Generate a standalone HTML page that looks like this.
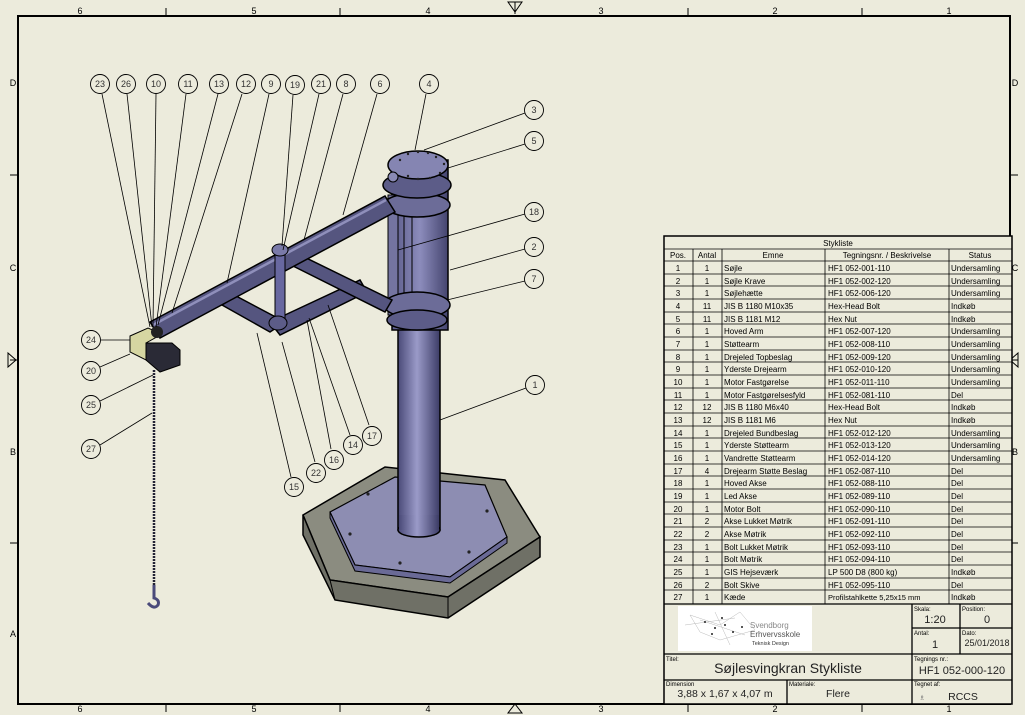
<!DOCTYPE html>
<html><head><meta charset="utf-8"><style>
html,body{margin:0;padding:0;background:#ecebdc;}
svg{display:block;font-family:"Liberation Sans",sans-serif;}
</style></head><body>
<svg width="1025" height="715" viewBox="0 0 1025 715" xmlns="http://www.w3.org/2000/svg">
<defs>
<linearGradient id="cyl" x1="0" x2="1" y1="0" y2="0">
<stop offset="0" stop-color="#4a4a78"/><stop offset="0.45" stop-color="#9a9ac8"/><stop offset="1" stop-color="#3c3c66"/></linearGradient>
<linearGradient id="cyl2" x1="0" x2="1"><stop offset="0" stop-color="#5a5a88"/><stop offset="0.5" stop-color="#8c8cbc"/><stop offset="1" stop-color="#44446e"/></linearGradient>
</defs>
<rect width="1025" height="715" fill="#ecebdc"/>
<rect x="18" y="16" width="992" height="688" fill="none" stroke="#000" stroke-width="2"/>
<g stroke="#000" stroke-width="1">
<line x1="166" y1="8" x2="166" y2="16"/><line x1="340" y1="8" x2="340" y2="16"/><line x1="688" y1="8" x2="688" y2="16"/><line x1="862" y1="8" x2="862" y2="16"/>
<line x1="166" y1="704" x2="166" y2="712"/><line x1="340" y1="704" x2="340" y2="712"/><line x1="688" y1="704" x2="688" y2="712"/><line x1="862" y1="704" x2="862" y2="712"/>
<line x1="10" y1="175" x2="18" y2="175"/><line x1="10" y1="360" x2="18" y2="360"/><line x1="10" y1="543" x2="18" y2="543"/>
<line x1="1010" y1="175" x2="1018" y2="175"/><line x1="1010" y1="360" x2="1018" y2="360"/><line x1="1010" y1="543" x2="1018" y2="543"/>
</g>
<g font-size="9" fill="#000" text-anchor="middle">
<text x="80" y="14">6</text><text x="254" y="14">5</text><text x="428" y="14">4</text><text x="601" y="14">3</text><text x="775" y="14">2</text><text x="949" y="14">1</text>
<text x="80" y="712">6</text><text x="254" y="712">5</text><text x="428" y="712">4</text><text x="601" y="712">3</text><text x="775" y="712">2</text><text x="949" y="712">1</text>
<text x="13" y="86">D</text><text x="13" y="271">C</text><text x="13" y="455">B</text><text x="13" y="637">A</text>
<text x="1015" y="86">D</text><text x="1015" y="271">C</text><text x="1015" y="455">B</text>
</g>
<path d="M508 2 L522 2 L515 12 Z M515 2 L515 14" fill="none" stroke="#000"/>
<path d="M508 713 L522 713 L515 704 Z" fill="none" stroke="#000"/>
<path d="M8 353 L8 367 L16 360 Z" fill="none" stroke="#000"/>
<path d="M1018 353 L1018 367 L1010 360 Z" fill="none" stroke="#000"/>

<!-- base -->
<path d="M303 515 L385 467 L505 480 L540 537 L448 597 L330 580 Z" fill="#8b8c80" stroke="#000" stroke-width="1.5"/>
<path d="M303 515 L303 535 L335 600 L448 618 L540 557 L540 537 L448 597 L330 580 Z" fill="#6f7066" stroke="#000" stroke-width="1.5"/>
<path d="M330 580 L335 600 M448 597 L448 618" stroke="#000"/>
<path d="M330 512 L395 477 L485 485 L507 537 L450 577 L355 565 Z" fill="#8d8db2" stroke="#000" stroke-width="1.2"/>
<path d="M330 512 L330 518 L355 571 L450 583 L507 543 L507 537 L450 577 L355 565 Z" fill="#6a6a96" stroke="#000"/>
<g fill="#222"><circle cx="368" cy="494" r="1.6"/><circle cx="487" cy="511" r="1.6"/><circle cx="350" cy="534" r="1.6"/><circle cx="469" cy="552" r="1.6"/><circle cx="400" cy="563" r="1.6"/></g>
<!-- pillar -->
<rect x="398" y="320" width="42" height="210" fill="url(#cyl)" stroke="#000" stroke-width="1.5"/>
<ellipse cx="419" cy="530" rx="21" ry="7" fill="url(#cyl)" stroke="#000" stroke-width="1.5"/>
<rect x="399" y="515" width="40" height="15" fill="url(#cyl)"/>
<!-- upper cylinder -->
<rect x="392" y="160" width="56" height="170" fill="url(#cyl2)" stroke="#000" stroke-width="1.5"/>
<line x1="412" y1="190" x2="412" y2="320" stroke="#000"/><line x1="404" y1="190" x2="404" y2="320" stroke="#000"/>
<rect x="388" y="195" width="10" height="120" fill="#7474a0" stroke="#000"/>
<ellipse cx="417" cy="305" rx="33" ry="13" fill="#6c6c98" stroke="#000" stroke-width="1.5"/>
<ellipse cx="417" cy="320" rx="30" ry="10" fill="#5c5c88" stroke="#000" stroke-width="1.5"/>
<ellipse cx="417" cy="205" rx="33" ry="12" fill="#6c6c98" stroke="#000" stroke-width="1.5"/>
<ellipse cx="417" cy="185" rx="34" ry="13" fill="#5c5c88" stroke="#000" stroke-width="1.5"/>
<ellipse cx="418" cy="165" rx="30" ry="14" fill="#8585b2" stroke="#000" stroke-width="1.5"/>
<circle cx="393" cy="177" r="5" fill="#8a8ab5" stroke="#000"/>
<g fill="#222"><circle cx="400" cy="160" r="1.2"/><circle cx="408" cy="154" r="1.2"/><circle cx="418" cy="152" r="1.2"/><circle cx="428" cy="153" r="1.2"/><circle cx="436" cy="157" r="1.2"/><circle cx="444" cy="164" r="1.2"/><circle cx="440" cy="173" r="1.2"/><circle cx="430" cy="178" r="1.2"/><circle cx="418" cy="179" r="1.2"/><circle cx="408" cy="176" r="1.2"/></g>
<!-- arms -->
<path d="M222 305 L270 332 L285 322 L236 296 Z" fill="#55557f" stroke="#000" stroke-width="1.5"/>
<path d="M270 322 L360 280 L367 292 L280 335 Z" fill="#55557f" stroke="#000" stroke-width="1.5"/>
<path d="M285 262 L385 312 L392 300 L294 252 Z" fill="#55557f" stroke="#000" stroke-width="1.5"/>
<path d="M150 322 L385 196 L395 212 L160 338 Z" fill="#55557f" stroke="#000" stroke-width="1.5"/>
<path d="M153 325 L386 200" stroke="#8f8fbb" stroke-width="2.5"/>
<rect x="275" y="255" width="10" height="70" fill="#6868a0" stroke="#000"/>
<ellipse cx="280" cy="250" rx="8" ry="6" fill="#7a7aa8" stroke="#000"/>
<ellipse cx="278" cy="323" rx="9" ry="7" fill="#5c5c88" stroke="#000"/>
<!-- motor -->
<path d="M130 336 L148 328 L162 334 L146 343 L146 360 L130 352 Z" fill="#d6d6a2" stroke="#000"/>
<path d="M146 343 L172 343 L180 350 L180 365 L160 372 L146 360 Z" fill="#2a2a36" stroke="#000"/>
<circle cx="157" cy="332" r="6" fill="#222"/>
<line x1="154" y1="370" x2="154" y2="585" stroke="#223" stroke-width="2.5" stroke-dasharray="2,1"/>
<path d="M154 585 L154 598 Q160 600 158 605 Q154 610 148 603" fill="none" stroke="#4a4a7a" stroke-width="3"/>

<!-- leaders -->
<g stroke="#000" stroke-width="0.8" fill="none">
<line x1="102" y1="94" x2="150" y2="327"/><line x1="127" y1="94" x2="152" y2="327"/><line x1="156" y1="94" x2="153" y2="327"/><line x1="186" y1="94" x2="156" y2="327"/><line x1="218" y1="94" x2="158" y2="325"/><line x1="242" y1="94" x2="172" y2="313"/><line x1="269" y1="94" x2="227" y2="283"/><line x1="293" y1="95" x2="282" y2="246"/><line x1="319" y1="94" x2="283" y2="250"/><line x1="343" y1="94" x2="304" y2="240"/><line x1="377" y1="94" x2="343" y2="215"/><line x1="426" y1="94" x2="415" y2="150"/>
<line x1="525" y1="113" x2="424" y2="150"/><line x1="525" y1="144" x2="448" y2="168"/><line x1="525" y1="214" x2="398" y2="250"/><line x1="525" y1="249" x2="450" y2="270"/><line x1="525" y1="281" x2="447" y2="300"/><line x1="526" y1="388" x2="440" y2="420"/>
<line x1="101" y1="340" x2="130" y2="340"/><line x1="100" y1="367" x2="130" y2="354"/><line x1="100" y1="401" x2="153" y2="375"/><line x1="100" y1="445" x2="152" y2="413"/>
<line x1="291" y1="477" x2="257" y2="333"/><line x1="315" y1="462" x2="282" y2="342"/><line x1="331" y1="449" x2="307" y2="320"/><line x1="350" y1="435" x2="309" y2="318"/><line x1="369" y1="425" x2="328" y2="305"/>
</g>
<g fill="#ecebdc" stroke="#000" stroke-width="0.9">
<circle cx="100" cy="84" r="9.5"/><circle cx="126" cy="84" r="9.5"/><circle cx="156" cy="84" r="9.5"/><circle cx="188" cy="84" r="9.5"/><circle cx="219" cy="84" r="9.5"/><circle cx="246" cy="84" r="9.5"/><circle cx="271" cy="84" r="9.5"/><circle cx="295" cy="85" r="9.5"/><circle cx="321" cy="84" r="9.5"/><circle cx="346" cy="84" r="9.5"/><circle cx="380" cy="84" r="9.5"/><circle cx="429" cy="84" r="9.5"/>
<circle cx="534" cy="110" r="9.5"/><circle cx="534" cy="141" r="9.5"/><circle cx="534" cy="212" r="9.5"/><circle cx="534" cy="247" r="9.5"/><circle cx="534" cy="279" r="9.5"/><circle cx="535" cy="385" r="9.5"/>
<circle cx="91" cy="340" r="9.5"/><circle cx="91" cy="371" r="9.5"/><circle cx="91" cy="405" r="9.5"/><circle cx="91" cy="449" r="9.5"/>
<circle cx="294" cy="487" r="9.5"/><circle cx="316" cy="473" r="9.5"/><circle cx="334" cy="460" r="9.5"/><circle cx="353" cy="445" r="9.5"/><circle cx="372" cy="436" r="9.5"/>
</g>
<g font-size="9" text-anchor="middle" fill="#333">
<text x="100" y="87">23</text><text x="126" y="87">26</text><text x="156" y="87">10</text><text x="188" y="87">11</text><text x="219" y="87">13</text><text x="246" y="87">12</text><text x="271" y="87">9</text><text x="295" y="88">19</text><text x="321" y="87">21</text><text x="346" y="87">8</text><text x="380" y="87">6</text><text x="429" y="87">4</text>
<text x="534" y="113">3</text><text x="534" y="144">5</text><text x="534" y="215">18</text><text x="534" y="250">2</text><text x="534" y="282">7</text><text x="535" y="388">1</text>
<text x="91" y="343">24</text><text x="91" y="374">20</text><text x="91" y="408">25</text><text x="91" y="452">27</text>
<text x="294" y="490">15</text><text x="316" y="476">22</text><text x="334" y="463">16</text><text x="353" y="448">14</text><text x="372" y="439">17</text>
</g>

<!-- parts list -->
<rect x="664" y="236" width="348" height="468" fill="#ecebdc" stroke="#000" stroke-width="1.5"/>
<g stroke="#000" stroke-width="0.8">
<line x1="664" y1="249" x2="1012" y2="249"/>
<line x1="693" y1="249" x2="693" y2="604"/><line x1="722" y1="249" x2="722" y2="604"/><line x1="825" y1="249" x2="825" y2="604"/><line x1="949" y1="249" x2="949" y2="604"/>
</g>
<g stroke="#000" stroke-width="0.8">
<line x1="664" y1="261" x2="1012" y2="261"/><line x1="664" y1="274" x2="1012" y2="274"/><line x1="664" y1="286" x2="1012" y2="286"/><line x1="664" y1="299" x2="1012" y2="299"/><line x1="664" y1="312" x2="1012" y2="312"/><line x1="664" y1="324" x2="1012" y2="324"/><line x1="664" y1="337" x2="1012" y2="337"/><line x1="664" y1="350" x2="1012" y2="350"/><line x1="664" y1="362" x2="1012" y2="362"/><line x1="664" y1="375" x2="1012" y2="375"/><line x1="664" y1="388" x2="1012" y2="388"/><line x1="664" y1="400" x2="1012" y2="400"/><line x1="664" y1="413" x2="1012" y2="413"/><line x1="664" y1="426" x2="1012" y2="426"/><line x1="664" y1="438" x2="1012" y2="438"/><line x1="664" y1="451" x2="1012" y2="451"/><line x1="664" y1="464" x2="1012" y2="464"/><line x1="664" y1="476" x2="1012" y2="476"/><line x1="664" y1="489" x2="1012" y2="489"/><line x1="664" y1="502" x2="1012" y2="502"/><line x1="664" y1="514" x2="1012" y2="514"/><line x1="664" y1="527" x2="1012" y2="527"/><line x1="664" y1="540" x2="1012" y2="540"/><line x1="664" y1="552" x2="1012" y2="552"/><line x1="664" y1="565" x2="1012" y2="565"/><line x1="664" y1="578" x2="1012" y2="578"/><line x1="664" y1="590" x2="1012" y2="590"/>
</g>
<g font-size="8" fill="#000">
<text x="838" y="246" text-anchor="middle">Stykliste</text>
<text x="678" y="258" text-anchor="middle">Pos.</text><text x="707" y="258" text-anchor="middle">Antal</text><text x="773" y="258" text-anchor="middle">Emne</text><text x="887" y="258" text-anchor="middle">Tegningsnr. / Beskrivelse</text><text x="980" y="258" text-anchor="middle">Status</text>
</g>
<g font-size="8" fill="#000">
<g text-anchor="middle">
<text x="678" y="271">1</text><text x="678" y="284">2</text><text x="678" y="296">3</text><text x="678" y="309">4</text><text x="678" y="322">5</text><text x="678" y="334">6</text><text x="678" y="347">7</text><text x="678" y="360">8</text><text x="678" y="372">9</text><text x="678" y="385">10</text><text x="678" y="398">11</text><text x="678" y="410">12</text><text x="678" y="423">13</text><text x="678" y="436">14</text><text x="678" y="448">15</text><text x="678" y="461">16</text><text x="678" y="474">17</text><text x="678" y="486">18</text><text x="678" y="499">19</text><text x="678" y="512">20</text><text x="678" y="524">21</text><text x="678" y="537">22</text><text x="678" y="550">23</text><text x="678" y="562">24</text><text x="678" y="575">25</text><text x="678" y="588">26</text><text x="678" y="600">27</text>
<text x="707" y="271">1</text><text x="707" y="284">1</text><text x="707" y="296">1</text><text x="707" y="309">11</text><text x="707" y="322">11</text><text x="707" y="334">1</text><text x="707" y="347">1</text><text x="707" y="360">1</text><text x="707" y="372">1</text><text x="707" y="385">1</text><text x="707" y="398">1</text><text x="707" y="410">12</text><text x="707" y="423">12</text><text x="707" y="436">1</text><text x="707" y="448">1</text><text x="707" y="461">1</text><text x="707" y="474">4</text><text x="707" y="486">1</text><text x="707" y="499">1</text><text x="707" y="512">1</text><text x="707" y="524">2</text><text x="707" y="537">2</text><text x="707" y="550">1</text><text x="707" y="562">1</text><text x="707" y="575">1</text><text x="707" y="588">2</text><text x="707" y="600">1</text>
</g>
<text x="724" y="271">Søjle</text><text x="724" y="284">Søjle Krave</text><text x="724" y="296">Søjlehætte</text><text x="724" y="309">JIS B 1180 M10x35</text><text x="724" y="322">JIS B 1181 M12</text><text x="724" y="334">Hoved Arm</text><text x="724" y="347">Støttearm</text><text x="724" y="360">Drejeled Topbeslag</text><text x="724" y="372">Yderste Drejearm</text><text x="724" y="385">Motor Fastgørelse</text><text x="724" y="398">Motor Fastgørelsesfyld</text><text x="724" y="410">JIS B 1180 M6x40</text><text x="724" y="423">JIS B 1181  M6</text><text x="724" y="436">Drejeled Bundbeslag</text><text x="724" y="448">Yderste Støttearm</text><text x="724" y="461">Vandrette Støttearm</text><text x="724" y="474">Drejearm Støtte Beslag</text><text x="724" y="486">Hoved Akse</text><text x="724" y="499">Led Akse</text><text x="724" y="512">Motor Bolt</text><text x="724" y="524">Akse Lukket Møtrik</text><text x="724" y="537">Akse Møtrik</text><text x="724" y="550">Bolt Lukket Møtrik</text><text x="724" y="562">Bolt Møtrik</text><text x="724" y="575">GIS Hejseværk</text><text x="724" y="588">Bolt Skive</text><text x="724" y="600">Kæde</text>
<text x="828" y="271">HF1 052-001-110</text><text x="828" y="284">HF1 052-002-120</text><text x="828" y="296">HF1 052-006-120</text><text x="828" y="309">Hex-Head Bolt</text><text x="828" y="322">Hex Nut</text><text x="828" y="334">HF1 052-007-120</text><text x="828" y="347">HF1 052-008-110</text><text x="828" y="360">HF1 052-009-120</text><text x="828" y="372">HF1 052-010-120</text><text x="828" y="385">HF1 052-011-110</text><text x="828" y="398">HF1 052-081-110</text><text x="828" y="410">Hex-Head Bolt</text><text x="828" y="423">Hex Nut</text><text x="828" y="436">HF1 052-012-120</text><text x="828" y="448">HF1 052-013-120</text><text x="828" y="461">HF1 052-014-120</text><text x="828" y="474">HF1 052-087-110</text><text x="828" y="486">HF1 052-088-110</text><text x="828" y="499">HF1 052-089-110</text><text x="828" y="512">HF1 052-090-110</text><text x="828" y="524">HF1 052-091-110</text><text x="828" y="537">HF1 052-092-110</text><text x="828" y="550">HF1 052-093-110</text><text x="828" y="562">HF1 052-094-110</text><text x="828" y="575">LP 500 D8 (800 kg)</text><text x="828" y="588">HF1 052-095-110</text><text x="828" y="600" font-size="7.5">Profilstahlkette 5,25x15 mm</text>
<text x="951" y="271">Undersamling</text><text x="951" y="284">Undersamling</text><text x="951" y="296">Undersamling</text><text x="951" y="309">Indkøb</text><text x="951" y="322">Indkøb</text><text x="951" y="334">Undersamling</text><text x="951" y="347">Undersamling</text><text x="951" y="360">Undersamling</text><text x="951" y="372">Undersamling</text><text x="951" y="385">Undersamling</text><text x="951" y="398">Del</text><text x="951" y="410">Indkøb</text><text x="951" y="423">Indkøb</text><text x="951" y="436">Undersamling</text><text x="951" y="448">Undersamling</text><text x="951" y="461">Undersamling</text><text x="951" y="474">Del</text><text x="951" y="486">Del</text><text x="951" y="499">Del</text><text x="951" y="512">Del</text><text x="951" y="524">Del</text><text x="951" y="537">Del</text><text x="951" y="550">Del</text><text x="951" y="562">Del</text><text x="951" y="575">Indkøb</text><text x="951" y="588">Del</text><text x="951" y="600">Indkøb</text>
</g>
<!-- title block -->
<g stroke="#000" stroke-width="1.3" fill="none">
<line x1="664" y1="604" x2="1012" y2="604"/>
<line x1="912" y1="604" x2="912" y2="704"/>
<line x1="960" y1="604" x2="960" y2="654"/>
<line x1="912" y1="628" x2="1012" y2="628"/>
<line x1="664" y1="654" x2="1012" y2="654"/>
<line x1="664" y1="680" x2="1012" y2="680"/>
<line x1="787" y1="680" x2="787" y2="704"/>
</g>
<rect x="678" y="606" width="134" height="45" fill="#fff"/>
<g stroke="#bbb" stroke-width="0.5" fill="none"><path d="M690 615 L720 625 L740 612 L755 630 L720 640 L700 632 Z M700 620 L745 635 M715 612 L730 645 M685 625 L735 618"/></g>
<g fill="#222"><circle cx="705" cy="622" r="1"/><circle cx="715" cy="628" r="1"/><circle cx="725" cy="625" r="1"/><circle cx="733" cy="632" r="1"/><circle cx="712" cy="634" r="1"/><circle cx="742" cy="627" r="1"/><circle cx="722" cy="618" r="1"/></g>
<g font-size="8" fill="#888"><text x="750" y="628">Svendborg</text><text x="750" y="637" fill="#555">Erhvervsskole</text><text x="752" y="645" font-size="5.5" fill="#333">Teknisk Design</text></g>
<g font-size="6" fill="#000">
<text x="914" y="611">Skala:</text><text x="962" y="611">Position:</text><text x="914" y="635">Antal:</text><text x="962" y="635">Dato:</text>
<text x="666" y="661">Titel:</text><text x="914" y="661">Tegnings nr.:</text><text x="666" y="686">Dimension</text><text x="789" y="686">Materiale:</text><text x="914" y="686">Tegnet af:</text>
</g>
<g font-size="11" fill="#222" text-anchor="middle">
<text x="935" y="623">1:20</text><text x="987" y="623">0</text><text x="935" y="648">1</text><text x="987" y="646" font-size="9">25/01/2018</text>
<text x="788" y="673" font-size="14">Søjlesvingkran Stykliste</text><text x="962" y="674" font-size="11">HF1 052-000-120</text>
<text x="725" y="697" font-size="10.5">3,88 x 1,67 x 4,07 m</text><text x="838" y="697" font-size="10.5">Flere</text><text x="963" y="700" font-size="10.5">RCCS</text>
</g>
<text x="919" y="700" font-size="7" fill="#777">♗</text>
</svg>
</body></html>
